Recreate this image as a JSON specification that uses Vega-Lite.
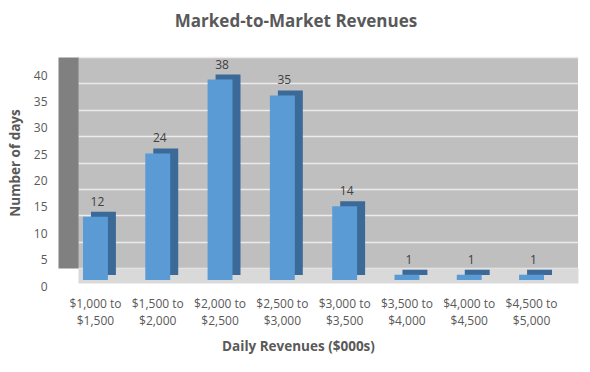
{
  "$schema": "https://vega.github.io/schema/vega-lite/v6.json",
  "autosize": "none",
  "width": 500,
  "height": 211,
  "padding": {"left": 78, "top": 57, "right": 12, "bottom": 104},
  "background": "white",
  "config": {
    "font": "Open Sans",
    "view": {"fill": "#BFBFBF", "stroke": null}
  },
  "title": {
    "text": "Marked-to-Market Revenues",
    "fontSize": 17,
    "fontWeight": "bold",
    "color": "#595959",
    "anchor": "middle",
    "dx": -32,
    "offset": 26
  },
  "data": {
    "values": [
      {"range": "$1,000 to $1,500", "days": 12},
      {"range": "$1,500 to $2,000", "days": 24},
      {"range": "$2,000 to $2,500", "days": 38},
      {"range": "$2,500 to $3,000", "days": 35},
      {"range": "$3,000 to $3,500", "days": 14},
      {"range": "$3,500 to $4,000", "days": 1},
      {"range": "$4,000 to $4,500", "days": 1},
      {"range": "$4,500 to $5,000", "days": 1}
    ]
  },
  "encoding": {
    "x": {
      "field": "range",
      "type": "nominal",
      "sort": null,
      "scale": {"paddingInner": 0.6, "paddingOuter": 0.313, "align": 0.128},
      "axis": {
        "title": "Daily Revenues ($000s)",
        "titleFontSize": 13.5,
        "titleFontWeight": "bold",
        "titleColor": "#595959",
        "titleX": 220,
        "titlePadding": 13,
        "labelAngle": 0,
        "labelExpr": "[substring(datum.label,0,9), substring(datum.label,10)]",
        "labelFontSize": 12,
        "labelColor": "#595959",
        "labelLineHeight": 17,
        "labelPadding": 23,
        "ticks": false,
        "offset": 7.5,
        "domainWidth": 15,
        "domainColor": "#D9D9D9",
        "domainCap": "butt",
        "zindex": 0
      }
    },
    "y": {
      "field": "days",
      "type": "quantitative",
      "scale": {"domain": [0, 40], "nice": false},
      "axis": {
        "title": "Number of days",
        "titleFontSize": 13.5,
        "titleFontWeight": "bold",
        "titleColor": "#595959",
        "titlePadding": 11,
        "values": [0, 5, 10, 15, 20, 25, 30, 35, 40],
        "labelFontSize": 12,
        "labelColor": "#595959",
        "labelOffset": 18,
        "labelFlush": false,
        "labelOverlap": false,
        "labelPadding": 21,
        "ticks": false,
        "offset": 10,
        "domainWidth": 20,
        "domainColor": "#808080",
        "domainCap": "butt",
        "grid": true,
        "gridColor": "#EBEBEB",
        "gridWidth": 1.3,
        "zindex": 0
      }
    }
  },
  "layer": [
    {
      "mark": {"type": "bar", "color": "#3B6A98", "xOffset": 8, "yOffset": 7, "y2Offset": 7}
    },
    {
      "mark": {"type": "bar", "color": "#5B9BD5", "yOffset": 12, "y2Offset": 12}
    },
    {
      "mark": {"type": "text", "baseline": "middle", "dx": 2, "yOffset": -3, "fontSize": 12, "color": "#404040"},
      "encoding": {"text": {"field": "days", "type": "quantitative"}}
    }
  ]
}
